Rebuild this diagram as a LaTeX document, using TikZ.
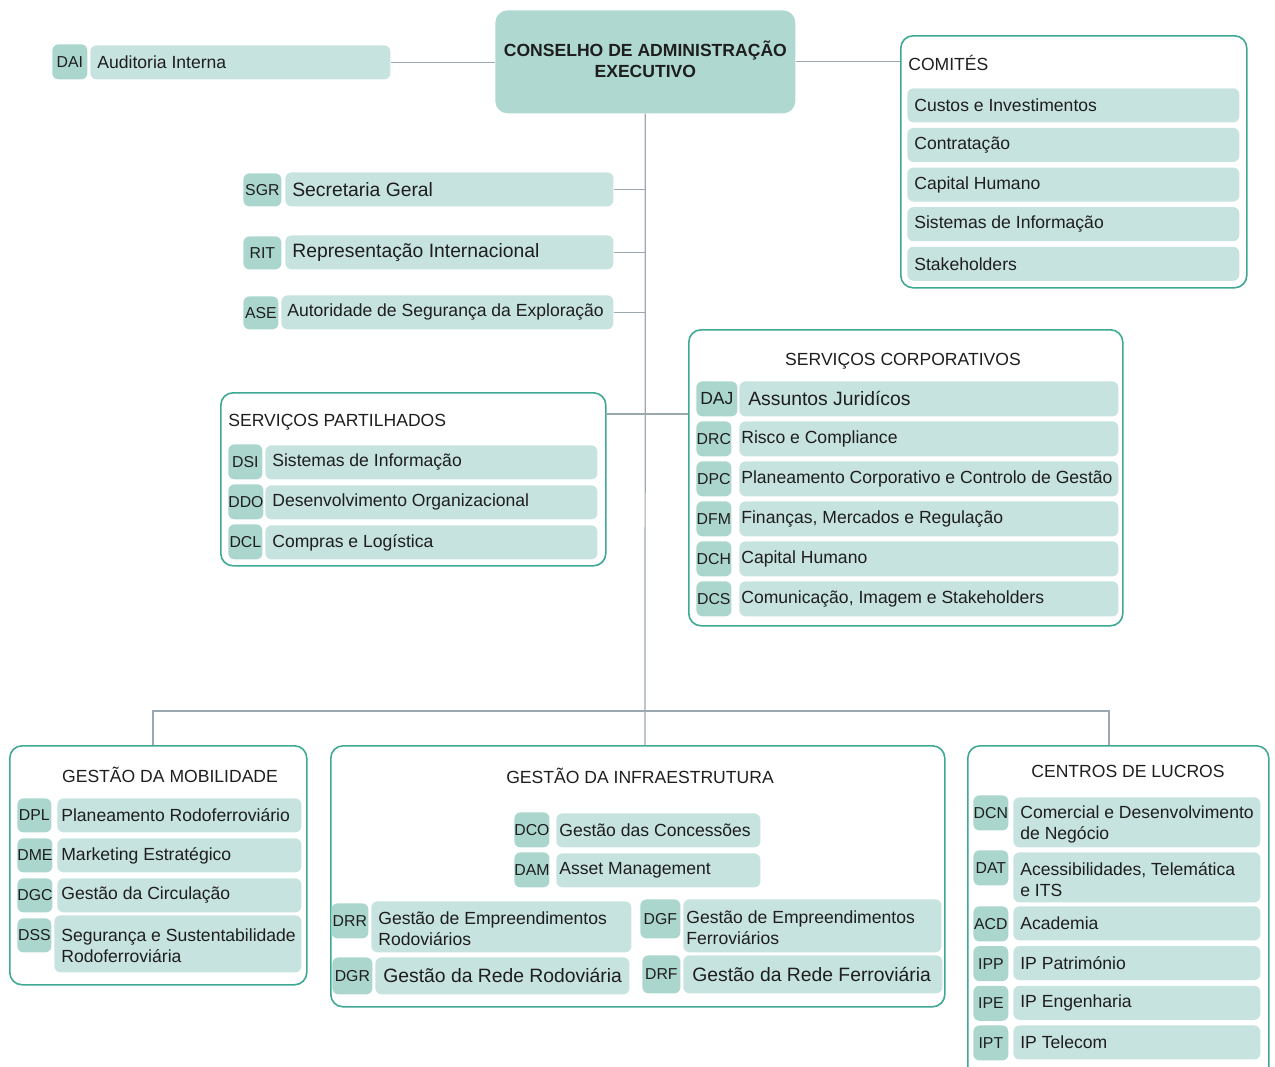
\documentclass[tikz,border=0pt]{standalone}
\usepackage{fontspec}
\setmainfont{Liberation Sans}

\definecolor{codefill}{HTML}{ABD6CD}
\definecolor{lblfill}{HTML}{C7E3DF}
\definecolor{headfill}{HTML}{AFD9D0}
\definecolor{framec}{HTML}{3DA893}
\definecolor{linkc}{HTML}{9BA8AF}
\definecolor{ink}{HTML}{1E1E1E}

\begin{document}
\begin{tikzpicture}[x=0.02cm, y=-0.02cm,
    every node/.style={text=ink},
    sz/.style 2 args={minimum width=#1*0.02cm, minimum height=#2*0.02cm},
    code/.style={fill=codefill, rounded corners=3.5pt, anchor=north west, inner sep=0pt, font=\fontsize{9}{10}\selectfont},
    lbl/.style={fill=lblfill, rounded corners=3.5pt, anchor=north west, inner sep=0pt},
    lbltxt/.style={anchor=west, inner sep=0pt, align=left, font=\fontsize{10}{12}\selectfont},
    tx/.style 2 args={label={[lbltxt, xshift=#1*0.02cm]west:#2}},
    twotx/.style 2 args={label={[lbltxt, xshift=#1*0.02cm, yshift=-0.04cm]west:#2}},
    bigtx/.style 2 args={label={[lbltxt, font=\fontsize{11}{13}\selectfont, xshift=#1*0.02cm]west:#2}},
    head/.style={fill=headfill, rounded corners=7pt, anchor=north west, inner sep=0pt, align=center, font=\bfseries\fontsize{10}{12}\selectfont},
    frame/.style={draw=framec, line width=0.9pt, rounded corners=7pt, anchor=north west, inner sep=0pt},
    title/.style={inner sep=0pt, font=\fontsize{10}{12}\selectfont},
    link/.style={draw=linkc, line width=0.7pt}]

    \useasboundingbox (0,0) rectangle (1275,1066);
    \clip (0,0) rectangle (1275,1066);

    % board
    \node[head, sz={300}{103}] (head) at (495,10) {CONSELHO DE ADMINISTRAÇÃO\\EXECUTIVO\\[-8.6pt]};

    \node[code, sz={35}{35}] (dai-c) at (52,44) {DAI};
    \node[lbl, sz={300}{34}, tx={7}{Auditoria Interna}] (dai) at (90,45) {};

    % committees
    \node[frame, sz={346}{252}] (comites) at (900,35) {};
    \node[title, anchor=west] (comites-t) at (908,63) {COMITÉS};
    \foreach \t [count=\i] in {Custos e Investimentos, Contratação, Capital Humano, Sistemas de Informação, Stakeholders}
        \node[lbl, sz={332}{34}, tx={7}{\t}] (com\i) at (907,{88+(\i-1)*39.6}) {};

    % staff units
    \node[code, sz={38}{33}] (sgr-c) at (243,173) {SGR};
    \node[lbl, sz={328}{34}, bigtx={7}{Secretaria Geral}] (sgr) at (285,172) {};
    \node[code, sz={38}{33}] (rit-c) at (243,236) {RIT};
    \node[lbl, sz={328}{34}, bigtx={7}{Representação Internacional}] (rit) at (285,235) {};
    \node[code, sz={35}{33}] (ase-c) at (243,296) {ASE};
    \node[lbl, sz={332}{34}, tx={6}{Autoridade de Segurança da Exploração}] (ase) at (281,295) {};

    % shared services
    \node[frame, sz={385}{173}] (partilhados) at (220,392) {};
    \node[title, anchor=west] (partilhados-t) at (228,422) {SERVIÇOS PARTILHADOS};
    \foreach \c/\t [count=\i] in {DSI/Sistemas de Informação, DDO/Desenvolvimento Organizacional, DCL/Compras e Logística} {
        \node[code, sz={34}{35}] (\c-c) at (228,{444+(\i-1)*40}) {\c};
        \node[lbl, sz={332}{34}, tx={7}{\t}] (\c) at (265,{445+(\i-1)*40}) {};
    }

    % corporate services
    \node[frame, sz={434}{296}] (corporativos) at (688,329) {};
    \node[title] (corporativos-t) at (903,361) {SERVIÇOS CORPORATIVOS};
    \node[code, sz={41}{35}, font=\fontsize{10}{12}\selectfont] (DAJ-c) at (696,381) {DAJ};
    \node[lbl, sz={379}{35}, bigtx={9}{Assuntos Juridícos}] (DAJ) at (739,381) {};
    \foreach \c/\t [count=\i] in {DRC/Risco e Compliance, DPC/Planeamento Corporativo e Controlo de Gestão, DFM/{Finanças, Mercados e Regulação}, DCH/Capital Humano, DCS/{Comunicação, Imagem e Stakeholders}} {
        \node[code, sz={35}{35}] (\c-c) at (696,{421+(\i-1)*40}) {\c};
        \node[lbl, sz={379}{35}, tx={2}{\t}] (\c) at (739,{421+(\i-1)*40}) {};
    }

    % mobility
    \node[frame, sz={297}{239}] (mobilidade) at (9,745) {};
    \node[title] (mobilidade-t) at (170,775) {GESTÃO DA MOBILIDADE};
    \foreach \c/\t [count=\i] in {DPL/Planeamento Rodoferroviário, DME/Marketing Estratégico, DGC/Gestão da Circulação} {
        \node[code, sz={34}{34}] (\c-c) at (17,{798+(\i-1)*40}) {\c};
        \node[lbl, sz={244}{34}, tx={4}{\t}] (\c) at (57,{798+(\i-1)*40}) {};
    }
    \node[code, sz={34}{34}] (DSS-c) at (17,918) {DSS};
    \node[lbl, sz={247}{57}, twotx={7}{Segurança e Sustentabilidade\\Rodoferroviária}] (DSS) at (54,915) {};

    % infrastructure
    \node[frame, sz={614}{261}] (infra) at (330,745) {};
    \node[title] (infra-t) at (640,776) {GESTÃO DA INFRAESTRUTURA};
    \node[code, sz={35}{35}] (DCO-c) at (514,812) {DCO};
    \node[lbl, sz={204}{34}, tx={3}{Gestão das Concessões}] (DCO) at (556,813) {};
    \node[code, sz={35}{35}] (DAM-c) at (514,852) {DAM};
    \node[lbl, sz={204}{34}, tx={3}{Asset Management}] (DAM) at (556,853) {};
    \node[code, sz={37}{35}] (DRR-c) at (331,903) {DRR};
    \node[lbl, sz={260}{51}, twotx={7}{Gestão de Empreendimentos\\Rodoviários}] (DRR) at (371,901) {};
    \node[code, sz={40}{39}] (DGF-c) at (640,899) {DGF};
    \node[lbl, sz={258}{53}, twotx={3}{Gestão de Empreendimentos\\Ferroviários}] (DGF) at (683,899) {};
    \node[code, sz={40}{37}] (DGR-c) at (332,957) {DGR};
    \node[lbl, sz={254}{37}, bigtx={8}{Gestão da Rede Rodoviária}] (DGR) at (375,957) {};
    \node[code, sz={38}{38}] (DRF-c) at (642,955) {DRF};
    \node[lbl, sz={259}{38}, bigtx={9}{Gestão da Rede Ferroviária}] (DRF) at (683,955) {};

    % profit centres
    \node[frame, sz={301}{335}] (lucros) at (967,745) {};
    \node[title] (lucros-t) at (1128,771) {CENTROS DE LUCROS};
    \node[code, sz={35}{35}] (DCN-c) at (973,795) {DCN};
    \node[lbl, sz={247}{50}, twotx={7}{Comercial e Desenvolvimento\\de Negócio}] (DCN) at (1013,797) {};
    \node[code, sz={35}{35}] (DAT-c) at (973,850) {DAT};
    \node[lbl, sz={247}{50}, twotx={7}{Acessibilidades, Telemática\\e ITS}] (DAT) at (1013,852) {};
    \foreach \c/\t [count=\i] in {ACD/Academia, IPP/IP Património, IPE/IP Engenharia, IPT/IP Telecom} {
        \node[code, sz={35}{35}] (\c-c) at (973,{906+(\i-1)*39.7}) {\c};
        \node[lbl, sz={247}{34}, tx={7}{\t}] (\c) at (1013,{906+(\i-1)*39.7}) {};
    }

    % connectors
    \coordinate (bus) at (645,711);
    \coordinate (busl) at (153,711);
    \coordinate (busr) at (1109,711);
    \coordinate (sp) at (645,414);
    \draw[link] (dai.east) -- (dai.east -| head.west);
    \draw[link] (head.east) -- (head.east -| comites.west);
    \draw[link] (head.south) -- (bus) -- (bus |- infra.north);
    \foreach \n in {sgr, rit, ase}
        \draw[link] (\n.east) -- (\n.east -| head.south);
    \draw[link] (partilhados.east |- sp) -- (corporativos.west |- sp);
    \draw[link] (busl |- mobilidade.north) -- (busl) -- (busr) -- (busr |- lucros.north);
\end{tikzpicture}
\end{document}
